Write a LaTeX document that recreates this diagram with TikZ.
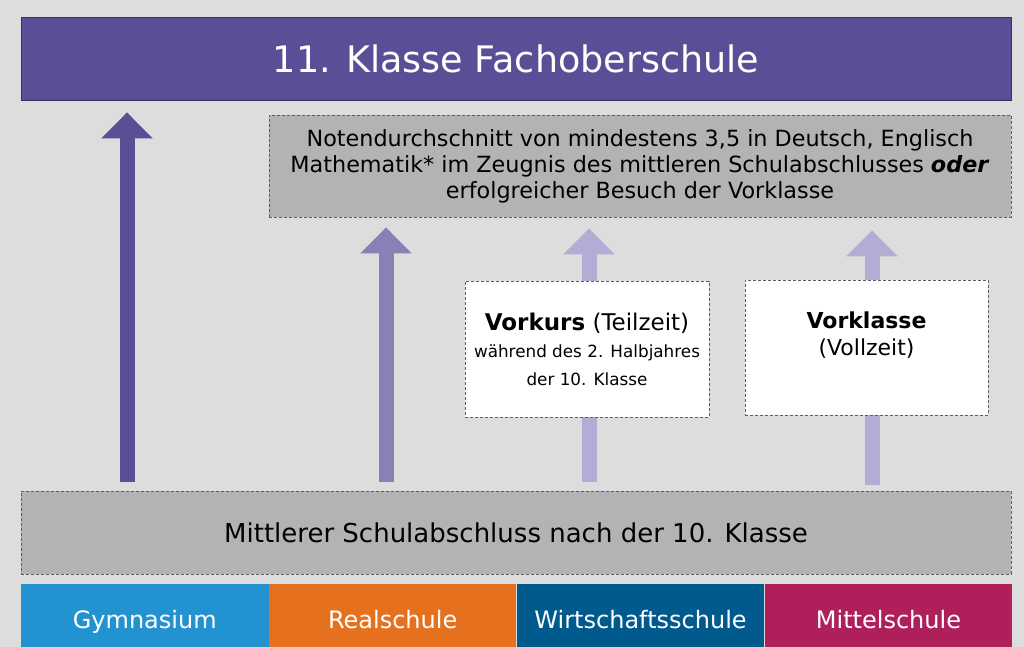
\documentclass[tikz,border=0pt]{standalone}
\usepackage{fontspec}
\setmainfont{DejaVu Sans}
\usetikzlibrary{arrows.meta, positioning}
\usepackage{xcolor}
\definecolor{hgrau}{RGB}{221,221,221}
\definecolor{lila}{RGB}{91,78,150}
\definecolor{lilarand}{RGB}{55,48,95}
\definecolor{lilamittel}{RGB}{138,128,182}
\definecolor{lilahell}{RGB}{180,172,212}
\definecolor{kastengrau}{RGB}{178,179,181}
\definecolor{strich}{RGB}{95,95,95}
\definecolor{gymblau}{RGB}{35,146,208}
\definecolor{realorange}{RGB}{229,113,31}
\definecolor{wirtblau}{RGB}{0,90,142}
\definecolor{mittelrot}{RGB}{175,31,91}

\begin{document}
\begin{tikzpicture}[x=1pt, y=-1pt,
		kasten/.style={draw=strich, line width=0.8pt, dash pattern=on 3pt off 2pt, fill=kastengrau, inner sep=0pt, align=center},
		weisskasten/.style={kasten, fill=white, minimum width=243pt, minimum height=135pt},
		schule/.style={fill=#1, text=white, minimum width=247.5pt, minimum height=63pt, inner sep=0pt, text height=25pt, text depth=0pt, font=\fontsize{24}{28}\selectfont},
		pfeil/.style={line width=15pt, draw=#1, -{Triangle[length=26pt, width=50pt]}}]
		% background
		\fill[hgrau] (0,0) rectangle (1024,647);
		% top and the two grey boxes
		\node[draw=lilarand, line width=0.8pt, fill=lila, text=white, minimum width=990pt, minimum height=83pt, font=\fontsize{36.5}{40}\selectfont] (fos) at (516,58.5) {11. Klasse Fachoberschule};
		\node[kasten, minimum width=742pt, minimum height=102pt, font=\fontsize{22.3}{26}\selectfont] (noten) at (640,166)
		      {Notendurchschnitt von mindestens 3,5 in Deutsch, Englisch\\Mathematik* im Zeugnis des mittleren Schulabschlusses \textbf{\textit{oder}}\\erfolgreicher Besuch der Vorklasse};
		\node[kasten, minimum width=990pt, minimum height=83pt, font=\fontsize{26}{30}\selectfont] (msa) at (516,532.5) {Mittlerer Schulabschluss nach der 10. Klasse};
		% schools
		\node[schule=gymblau] (gym) at (144.75,615.5) {Gymnasium};
		\node[schule=realorange, right=0pt of gym] (real) {Realschule};
		\node[schule=wirtblau, right=0pt of real] (wirt) {Wirtschaftsschule};
		\node[schule=mittelrot, right=0pt of wirt] (mittel) {Mittelschule};
		% arrows
		\coordinate (x1) at (127,0);
		\coordinate (x2) at (386,0);
		\coordinate (x3) at (589,0);
		\coordinate (x4) at (872,0);
		\draw[pfeil=lila, shorten <=9pt, shorten >=12pt] (msa.north -| x1) -- (fos.south -| x1);
		\draw[pfeil=lilamittel, shorten <=9pt, shorten >=10pt] (msa.north -| x2) -- (noten.south -| x2);
		\draw[pfeil=lilahell, shorten <=9pt, shorten >=11pt] (msa.north -| x3) -- (noten.south -| x3);
		\draw[pfeil=lilahell, shorten <=6pt, shorten >=13pt] (msa.north -| x4) -- (noten.south -| x4);
		% white boxes over the arrows
		\node[weisskasten, minimum width=244pt, minimum height=136pt, font=\fontsize{16.8}{27.5}\selectfont] (vorkurs) at (587,349)
		      {{\fontsize{23}{27.5}\selectfont\textbf{Vorkurs} (Teilzeit)}\\während des 2. Halbjahres\\der 10. Klasse};
		\node[weisskasten, font=\fontsize{22}{27}\selectfont] (vorklasse) at (866.5,347.5)
		      {\textbf{Vorklasse}\\(Vollzeit)\\\mbox{}};
	\end{tikzpicture}
\end{document}
